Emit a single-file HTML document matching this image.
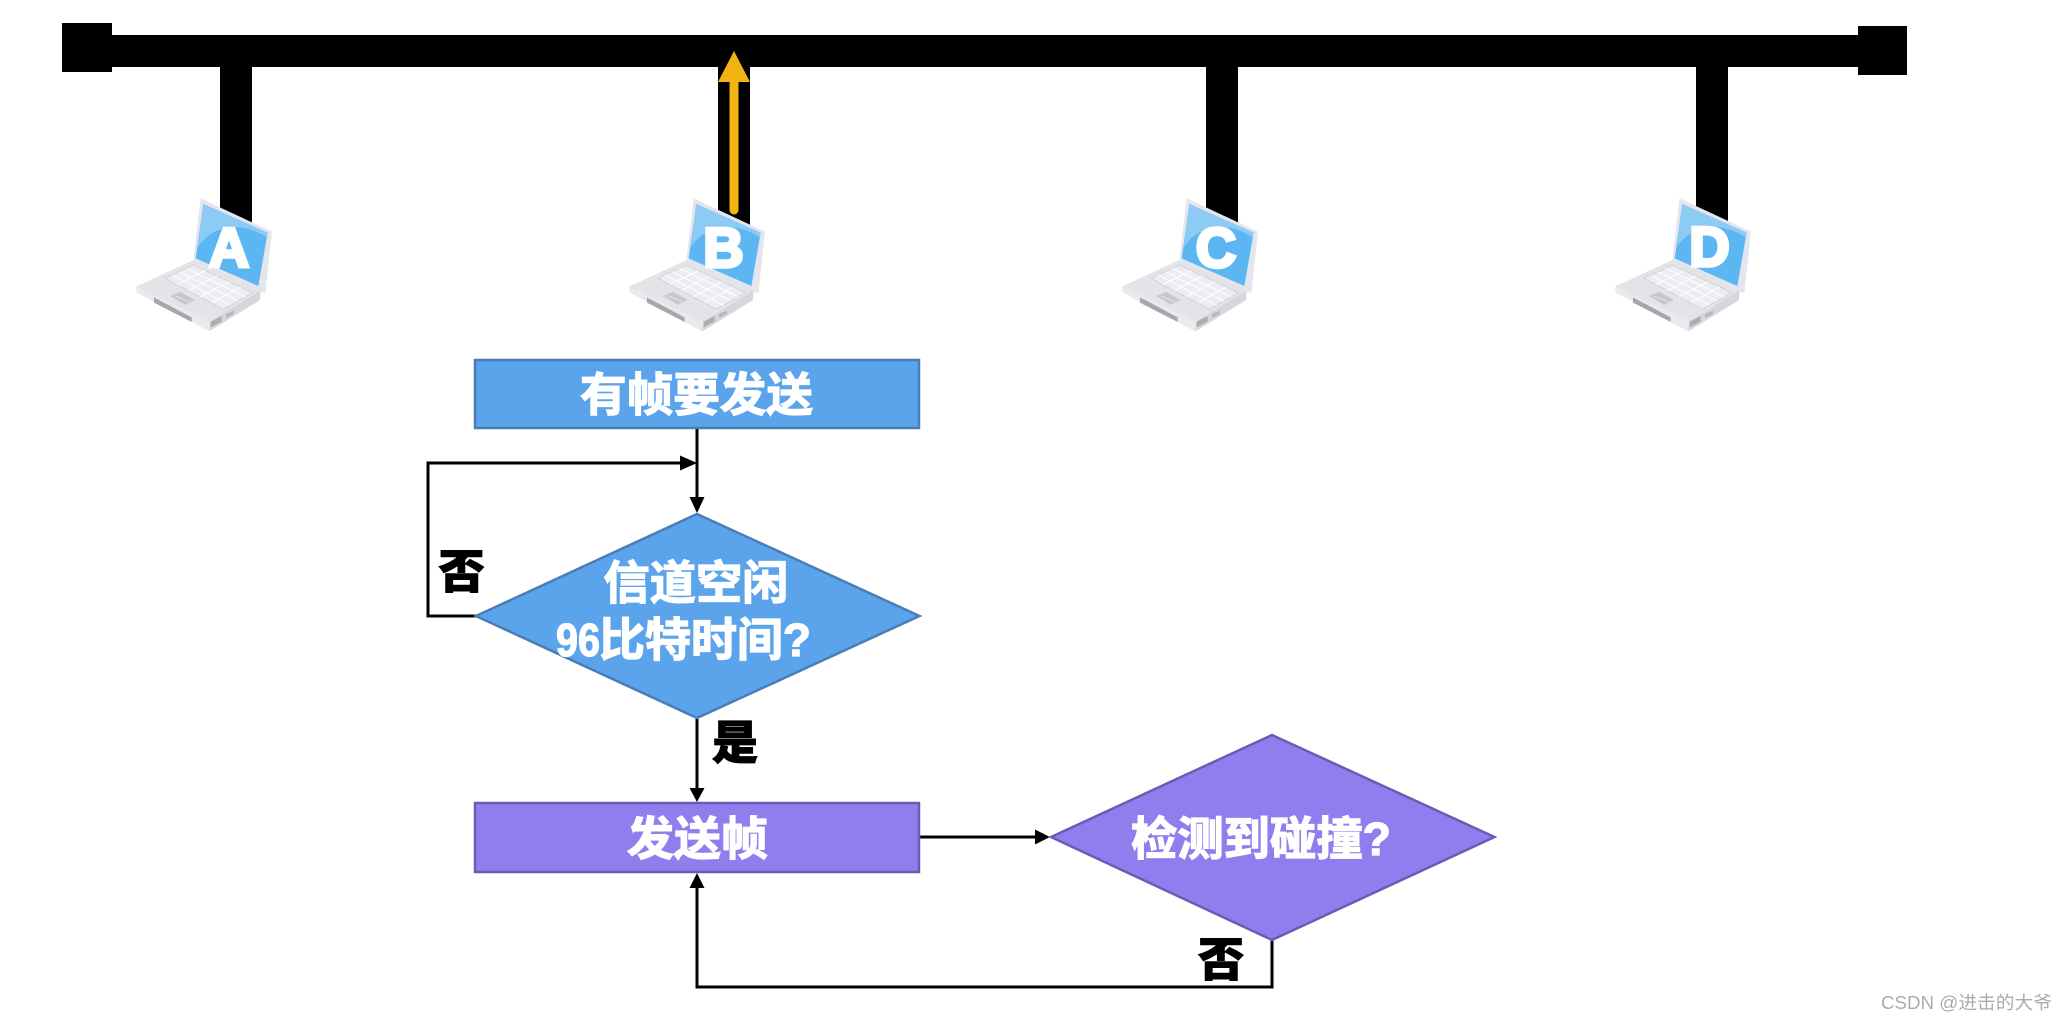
<!DOCTYPE html>
<html lang="zh">
<head>
<meta charset="utf-8">
<title>CSMA/CD</title>
<style>
html,body{margin:0;padding:0;background:#fff;width:2067px;height:1022px;overflow:hidden}
svg{display:block}
.w{font-family:"Liberation Sans","Noto Sans CJK SC",sans-serif;font-weight:700;font-size:46px;fill:#fff;stroke:#fff;stroke-width:1.3px;text-anchor:middle}
.k{font-family:"Noto Sans CJK SC","Liberation Sans",sans-serif;font-weight:900;font-size:46px;fill:#000;stroke:#000;stroke-width:1px;text-anchor:middle}
.l{font-family:"Liberation Sans",sans-serif;font-weight:700;font-size:56px;fill:#fff;stroke:#fff;stroke-width:3.5px;text-anchor:middle}
.c{fill:none;stroke:#000;stroke-width:3}
</style>
</head>
<body>
<svg width="2067" height="1022" viewBox="0 0 2067 1022" xmlns="http://www.w3.org/2000/svg">
<defs>
<g id="lap">
<polygon points="212,25 426,125 406,310 385,300 190,212" fill="#e4e5ee"/>
<polygon points="220,42 413,128 385,288 197,205" fill="#5cb6f2"/>
<path d="M220,42 L413,128 L410,142 C340,95 250,100 203,172 Z" fill="#8ccbf4"/>
<polygon points="18,290 190,210 392,300 240,395" fill="#e3e3e8"/>
<polygon points="18,290 20,308 238,424 240,395" fill="#e9e9ee"/>
<polygon points="240,395 392,300 390,330 238,424" fill="#d6d6dc"/>
<polygon points="105,265 190,225 368,308 280,358" fill="#ecedf1" stroke="#c9c9cf" stroke-width="2"/>
<g stroke="#fff" stroke-width="3">
<line x1="140" y1="284" x2="226" y2="242"/><line x1="175" y1="302" x2="261" y2="258"/>
<line x1="210" y1="321" x2="297" y2="275"/><line x1="245" y1="339" x2="332" y2="291"/>
<line x1="126" y1="255" x2="302" y2="346"/><line x1="147" y1="245" x2="324" y2="333"/>
<line x1="169" y1="235" x2="346" y2="321"/>
</g>
<polygon points="120,318 150,305 195,330 165,345" fill="#c6c6cc" stroke="#dcdce0" stroke-width="2"/>
<line x1="135" y1="318" x2="178" y2="335" stroke="#e5e5e8" stroke-width="3"/>
<polygon points="72,322 185,382 185,396 72,338" fill="#a6a6ac"/>
<polygon points="242,395 275,378 275,395 242,412" fill="#adadb3"/>
<polygon points="288,372 312,362 312,372 288,384" fill="#b8b8be"/>
</g>
</defs>

<rect width="2067" height="1022" fill="#fff"/>

<!-- bus -->
<rect x="62" y="23" width="50" height="49" fill="#000"/>
<rect x="100" y="35" width="1770" height="32" fill="#000"/>
<rect x="1858" y="26" width="49" height="49" fill="#000"/>
<rect x="220" y="60" width="32" height="165" fill="#000"/>
<rect x="718" y="60" width="32" height="165" fill="#000"/>
<rect x="1206" y="60" width="32" height="165" fill="#000"/>
<rect x="1696" y="60" width="32" height="165" fill="#000"/>

<!-- laptops -->
<use href="#lap" transform="translate(130,190) scale(.3333)"/>
<use href="#lap" transform="translate(623,190) scale(.3333)"/>
<use href="#lap" transform="translate(1116,190) scale(.3333)"/>
<use href="#lap" transform="translate(1609,190) scale(.3333)"/>
<text class="l" x="229" y="267">A</text>
<text class="l" x="723.5" y="267">B</text>
<text class="l" x="1216" y="267">C</text>
<text class="l" x="1709.5" y="266">D</text>

<!-- yellow arrow -->
<line x1="734" y1="80" x2="734" y2="210" stroke="#f2b313" stroke-width="9" stroke-linecap="round"/>
<polygon points="734,51 750,82 718,82" fill="#f2b313"/>

<!-- connectors -->
<path class="c" d="M697,429 V500"/>
<polygon points="697,513 689.5,497 704.5,497" fill="#000"/>
<path class="c" d="M476,616 H428 V463 H684"/>
<polygon points="697,463 680,455.5 680,470.5" fill="#000"/>
<path class="c" d="M697,719 V792"/>
<polygon points="697,802 689.5,788 704.5,788" fill="#000"/>
<path class="c" d="M920,837 H1038"/>
<polygon points="1050,837 1035,829.5 1035,844.5" fill="#000"/>
<path class="c" d="M1272,941 V987 H697 V885"/>
<polygon points="697,873 689.5,888 704.5,888" fill="#000"/>

<!-- shapes -->
<rect x="475" y="360" width="444" height="68" fill="#5ba3eb" stroke="#4a7db5" stroke-width="2.5"/>
<polygon points="697,514 919.5,616 697,718 476,616" fill="#5ba3eb" stroke="#4a7db5" stroke-width="2.5"/>
<rect x="475" y="803" width="444" height="69" fill="#8f7fee" stroke="#6a5bb5" stroke-width="2.5"/>
<polygon points="1272,735 1494.5,837 1272,940 1051,837" fill="#8f7fee" stroke="#6a5bb5" stroke-width="2.5"/>

<!-- labels -->
<text class="w" x="578" y="656" textLength="44" lengthAdjust="spacingAndGlyphs">96</text>
<text class="w" x="705" y="656" textLength="212" lengthAdjust="spacingAndGlyphs">比特时间?</text>
<text class="w" x="696.5" y="411" textLength="233" lengthAdjust="spacingAndGlyphs">有帧要发送</text>
<text class="w" x="696" y="599" textLength="185" lengthAdjust="spacingAndGlyphs">信道空闲</text>
<text class="w" x="697.5" y="855" textLength="141" lengthAdjust="spacingAndGlyphs">发送帧</text>
<text class="w" x="1261" y="855" textLength="260" lengthAdjust="spacingAndGlyphs">检测到碰撞?</text>
<text class="k" x="461.5" y="588">否</text>
<text class="k" x="735" y="759">是</text>
<text class="k" x="1221" y="976">否</text>

<!-- watermark -->
<text x="1881" y="1009" font-family="'Liberation Sans','Noto Sans CJK SC',sans-serif" font-size="18" fill="#ababab" textLength="171" lengthAdjust="spacingAndGlyphs">CSDN @进击的大爷</text>
</svg>
</body>
</html>
